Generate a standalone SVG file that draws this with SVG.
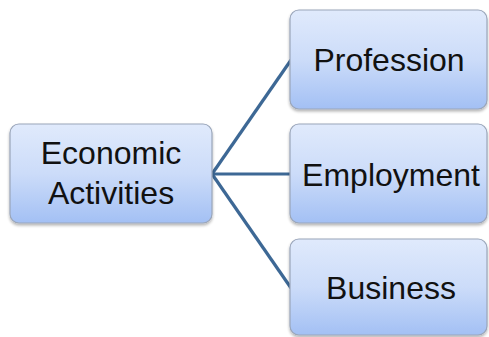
<svg xmlns="http://www.w3.org/2000/svg" width="489" height="337" viewBox="0 0 489 337">
<defs>
<linearGradient id="g" x1="0" y1="0" x2="0" y2="1">
<stop offset="0" stop-color="#e0eafc"/>
<stop offset="0.5" stop-color="#ccdcf9"/>
<stop offset="1" stop-color="#a3c0f4"/>
</linearGradient>
<filter id="sh" x="-10%" y="-10%" width="120%" height="130%">
<feGaussianBlur in="SourceAlpha" stdDeviation="1.5"/>
<feOffset dx="0" dy="2" result="b"/>
<feComponentTransfer><feFuncA type="linear" slope="0.3"/></feComponentTransfer>
<feMerge><feMergeNode/><feMergeNode in="SourceGraphic"/></feMerge>
</filter>
</defs>
<style>
.box{fill:url(#g);stroke:#9aa6ba;stroke-width:1.2;filter:url(#sh)}
.t{font-family:"Liberation Sans",Arial,sans-serif;font-size:32px;fill:#111;text-anchor:middle}
.c{stroke:#3d6895;stroke-width:3.2;fill:none}
</style>
<rect width="489" height="337" fill="#fff"/>
<g id="connectors">
<line class="c" x1="212" y1="174" x2="291" y2="60"/>
<line class="c" x1="212" y1="174" x2="291" y2="174"/>
<line class="c" x1="212" y1="174" x2="291" y2="288"/>
</g>
<g id="economic">
<rect class="box" x="10" y="124" width="202" height="99" rx="9"/>
<text class="t" x="111" y="164">Economic</text>
<text class="t" x="111" y="204">Activities</text>
</g>
<g id="profession">
<rect class="box" x="290" y="10" width="197" height="99" rx="9"/>
<text class="t" x="389" y="71">Profession</text>
</g>
<g id="employment">
<rect class="box" x="290" y="124" width="197" height="99" rx="9"/>
<text class="t" x="391" y="186">Employment</text>
</g>
<g id="business">
<rect class="box" x="290" y="239" width="197" height="96" rx="9"/>
<text class="t" x="391" y="299">Business</text>
</g>
</svg>
